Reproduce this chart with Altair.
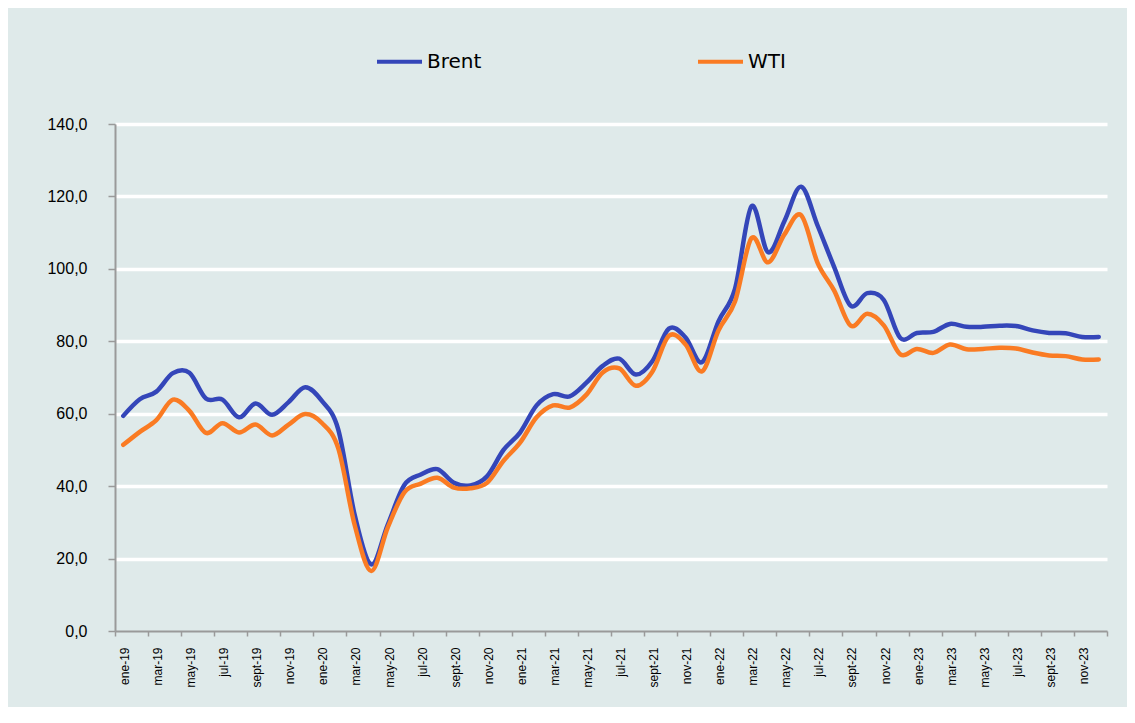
import altair as alt
import pandas as pd

months_es = ["ene", "feb", "mar", "abr", "may", "jun", "jul", "ago", "sept", "oct", "nov", "dic"]
years = ["19", "20", "21", "22", "23"]
month_labels = [f"{m}-{y}" for y in years for m in months_es]
tick_labels = month_labels[::2]

brent = [
    59.4, 64.0, 66.1, 71.2, 71.3, 64.2, 63.9, 59.0, 62.8, 59.7, 63.2, 67.3,
    63.6, 55.7, 32.0, 18.4, 29.4, 40.3, 43.2, 44.7, 40.9, 40.2, 42.7, 50.0,
    54.8, 62.3, 65.4, 64.8, 68.5, 73.2, 75.2, 70.8, 74.5, 83.5, 81.1, 74.2,
    85.5, 94.5, 117.3, 104.6, 113.3, 122.7, 111.9, 100.5, 89.8, 93.3, 91.4, 80.9,
    82.3, 82.6, 84.8, 84.0, 84.0, 84.3, 84.2, 83.0, 82.3, 82.2, 81.2, 81.2,
]
wti = [
    51.4, 55.0, 58.2, 63.9, 60.8, 54.7, 57.4, 54.8, 57.0, 54.0, 57.0, 59.9,
    57.5, 50.5, 29.2, 16.6, 28.6, 38.3, 40.7, 42.3, 39.6, 39.4, 40.9, 47.0,
    52.0, 59.0, 62.3, 61.7, 65.2, 71.4, 72.5, 67.7, 71.6, 81.5, 79.2, 71.7,
    83.0, 91.0, 108.5, 101.8, 109.6, 114.8, 101.6, 94.0, 84.3, 87.6, 84.4, 76.4,
    77.9, 76.8, 79.1, 77.8, 77.9, 78.2, 78.0, 76.9, 76.1, 75.9, 75.0, 75.0,
]
series_names = ["Brent", "WTI"]
series_colors = ["#3446b9", "#fa7b23"]
y_ticks = [0, 20, 40, 60, 80, 100, 120, 140]

rows = []
for i, lab in enumerate(month_labels):
    rows.append({"idx": i, "mes": lab, "serie": "Brent", "valor": brent[i]})
    rows.append({"idx": i, "mes": lab, "serie": "WTI", "valor": wti[i]})
df = pd.DataFrame(rows)

n = len(month_labels)
tick_values = [i - 0.5 for i in range(0, n + 1, 2)]
label_js = "[" + ",".join(f"'{t}'" for t in tick_labels) + ",'']"
label_expr = f"{label_js}[round((datum.value + 0.5) / 2)]"

FONT = "Liberation Sans"
GRAY = "#9a9a9a"

chart = alt.Chart(df).mark_line(
    interpolate="cardinal", strokeWidth=4.5, strokeCap="round", strokeJoin="round"
).encode(
    x=alt.X(
        "idx:Q",
        scale=alt.Scale(domain=[-0.5, n - 0.5], nice=False, zero=False),
        axis=alt.Axis(
            values=tick_values, labelExpr=label_expr, labelAngle=-90, labelOffset=9.5,
            labelFlush=False, labelOverlap=False, labelBound=False, grid=False,
            domainColor=GRAY, domainWidth=2, tickColor=GRAY, tickSize=5, tickWidth=1.5,
            labelPadding=11, labelFontSize=12, labelColor="#000", labelFont=FONT, title=None,
        ),
    ),
    y=alt.Y(
        "valor:Q",
        scale=alt.Scale(domain=[0, 140], nice=False),
        axis=alt.Axis(
            values=y_ticks,
            labelExpr="replace(format(datum.value, '.1f'), '.', ',')",
            grid=True,
            gridColor=alt.condition("datum.value == 0", alt.value("transparent"), alt.value("#ffffff")),
            gridWidth=3.5, domainColor=GRAY, domainWidth=2, tickColor=GRAY, tickSize=7,
            tickWidth=1.5, labelPadding=21, labelFontSize=16, labelColor="#000",
            labelFont=FONT, title=None,
        ),
    ),
    color=alt.Color(
        "serie:N",
        scale=alt.Scale(domain=series_names, range=series_colors),
        legend=alt.Legend(
            orient="none", legendX=260, legendY=-87, direction="horizontal",
            symbolType="stroke", symbolSize=2025, symbolStrokeWidth=4,
            labelFontSize=20, labelFont="DejaVu Sans", labelColor="#000", labelOffset=3,
            columnPadding=208, title=None, padding=0,
        ),
    ),
).properties(
    width=992,
    height=507,
    padding={"left": 107, "top": 116, "right": 20, "bottom": 76},
    autosize=alt.AutoSizeParams(type="none"),
    background="#dfeaea",
).configure(font=FONT).configure_view(stroke=None)

chart.save("out.html", embed_options={"renderer": "svg", "actions": False})
